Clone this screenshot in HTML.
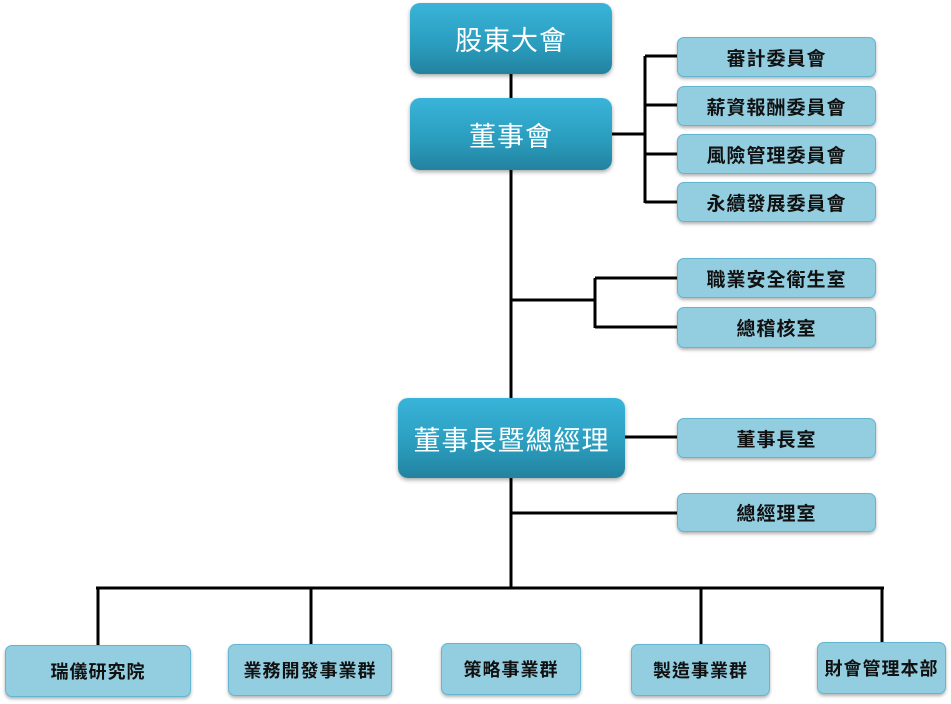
<!DOCTYPE html>
<html><head><meta charset="utf-8"><style>
body{margin:0;width:951px;height:704px;background:#fff;position:relative;overflow:hidden;font-family:"Liberation Sans","Noto Sans CJK TC",sans-serif}
.d{position:absolute;border-radius:10px;background:linear-gradient(#39b4d9,#2a9cbd 60%,#23829f);color:#fff;display:flex;align-items:center;justify-content:center;box-shadow:0 2px 4px rgba(0,0,0,.35);letter-spacing:1px}
.l{position:absolute;border-radius:7px;background:#93cde0;border:1.5px solid #62b6d2;color:#111;display:flex;align-items:center;justify-content:center;font-size:19px;font-weight:bold;box-shadow:0 2px 3px rgba(0,0,0,.3);box-sizing:border-box;letter-spacing:1px}
svg{position:absolute;left:0;top:0}
</style></head><body>
<svg width="951" height="704"><g stroke="#000" stroke-width="3" fill="none">
<line x1="511" y1="74" x2="511" y2="589"/>
<line x1="612" y1="134" x2="645" y2="134"/>
<line x1="645" y1="56" x2="645" y2="203"/>
<line x1="645" y1="56" x2="677" y2="56"/>
<line x1="645" y1="105" x2="677" y2="105"/>
<line x1="645" y1="154" x2="677" y2="154"/>
<line x1="645" y1="202" x2="677" y2="202"/>
<line x1="511" y1="300" x2="595" y2="300"/>
<line x1="595" y1="278" x2="595" y2="328"/>
<line x1="595" y1="278" x2="677" y2="278"/>
<line x1="595" y1="327" x2="677" y2="327"/>
<line x1="625" y1="437" x2="677" y2="437"/>
<line x1="511" y1="513" x2="677" y2="513"/>
<line x1="96" y1="588" x2="884" y2="588"/>
<line x1="98" y1="588" x2="98" y2="645"/>
<line x1="311" y1="588" x2="311" y2="644"/>
<line x1="701" y1="588" x2="701" y2="644"/>
<line x1="882" y1="588" x2="882" y2="642"/>
</g></svg>
<div class="d" style="left:410px;top:3px;width:202px;height:71px;font-size:27px">股東大會</div>
<div class="d" style="left:410px;top:98px;width:202px;height:72px;font-size:27px">董事會</div>
<div class="d" style="left:398px;top:398px;width:227px;height:80px;font-size:27px">董事長暨總經理</div>
<div class="l" style="left:677px;top:37px;width:199px;height:40px">審計委員會</div>
<div class="l" style="left:677px;top:86px;width:199px;height:40px">薪資報酬委員會</div>
<div class="l" style="left:677px;top:134px;width:199px;height:40px">風險管理委員會</div>
<div class="l" style="left:677px;top:182px;width:199px;height:40px">永續發展委員會</div>
<div class="l" style="left:677px;top:258px;width:199px;height:40px">職業安全衛生室</div>
<div class="l" style="left:677px;top:307px;width:199px;height:41px">總稽核室</div>
<div class="l" style="left:677px;top:418px;width:199px;height:40px">董事長室</div>
<div class="l" style="left:677px;top:493px;width:199px;height:39px">總經理室</div>
<div class="l" style="left:5px;top:645px;width:186px;height:52px;font-size:18px">瑞儀研究院</div>
<div class="l" style="left:228px;top:644px;width:164px;height:52px;font-size:18px">業務開發事業群</div>
<div class="l" style="left:441px;top:643px;width:140px;height:52px;font-size:18px">策略事業群</div>
<div class="l" style="left:631px;top:644px;width:139px;height:52px;font-size:18px">製造事業群</div>
<div class="l" style="left:817px;top:642px;width:129px;height:52px;font-size:18px">財會管理本部</div>
</body></html>
